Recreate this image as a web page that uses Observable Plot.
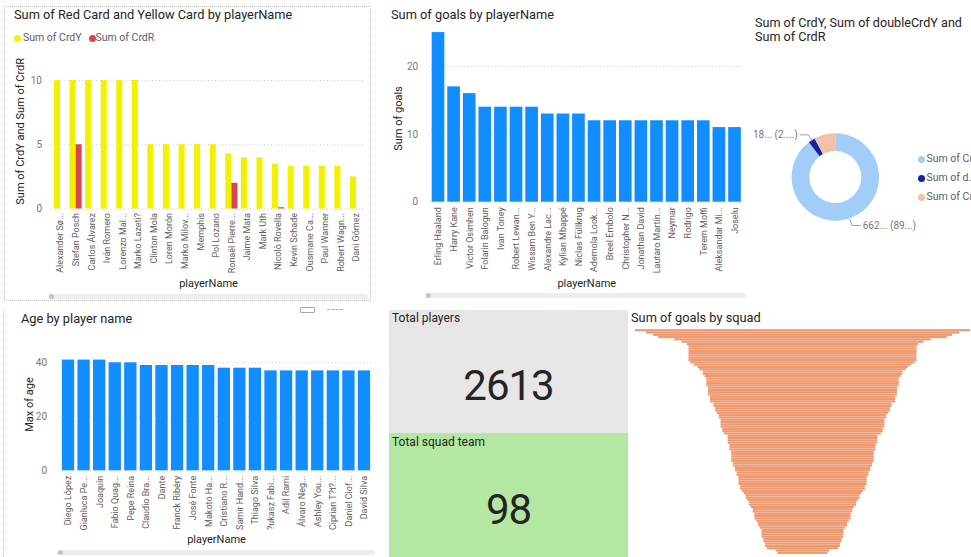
<!DOCTYPE html>
<html>
<head>
<meta charset="utf-8">
<script src="https://cdn.jsdelivr.net/npm/d3@7"></script>
<script src="https://cdn.jsdelivr.net/npm/@observablehq/plot@0.6"></script>
<style>
html,body{margin:0;padding:0;width:971px;height:557px;overflow:hidden;background:#fff;font-family:Roboto,sans-serif;}
.abs{position:absolute;}
.title{position:absolute;font-size:12.8px;line-height:14px;color:#252423;white-space:nowrap;}
.legtxt{position:absolute;font-size:10.5px;line-height:12px;color:#605E5C;white-space:nowrap;}
.dot{position:absolute;width:7px;height:7px;border-radius:50%;}
.scroll{position:absolute;height:5px;border-radius:3px;background:#EDEDED;}
.knob{position:absolute;width:5px;height:5px;border-radius:50%;background:#C4C4C4;}
.card{position:absolute;}
.cardnum{position:absolute;font-size:42px;line-height:42px;color:#252423;text-align:center;letter-spacing:-1px;}
svg{display:block;}
</style>
</head>
<body>
<script>
// ---------- DATA ----------
const cardPlayers = ["Alexander Sø...", "Stefan Posch", "Carlos Álvarez", "Iván Romero", "Lorenzo Mal...", "Marko Lazeti?", "Clinton Mola", "Loren Morón", "Marko Milov...", "Memphis", "Pol Lozano", "Ronaël Pierre...", "Jaime Mata", "Mark Uth", "Nicolò Rovella", "Kevin Schade", "Ousmane Ca...", "Paul Wanner", "Robert Wagn...", "Dani Gómez"];
const sumCrdY = [10, 10, 10, 10, 10, 10, 5, 5, 5, 5, 5, 4.29, 4, 4, 3.5, 3.33, 3.33, 3.33, 3.33, 2.5];
const sumCrdR = [0, 5, 0, 0, 0, 0, 0, 0, 0, 0, 0, 2, 0, 0, 0.1, 0, 0, 0, 0, 0];
const cardTicks = [0, 5, 10];

const goalPlayers = ["Erling Haaland", "Harry Kane", "Victor Osimhen", "Folarin Balogun", "Ivan Toney", "Robert Lewan...", "Wissam Ben Y...", "Alexandre Lac...", "Kylian Mbappé", "Niclas Füllkrug", "Ademola Look...", "Breel Embolo", "Christopher N...", "Jonathan David", "Lautaro Martín...", "Neymar", "Rodrigo", "Terem Moffi", "Aleksandar Mi...", "Joselu"];
const sumGoals = [25, 17, 16, 14, 14, 14, 14, 13, 13, 13, 12, 12, 12, 12, 12, 12, 12, 12, 11, 11];
const goalTicks = [0, 10, 20];

const agePlayers = ["Diego López", "Gianluca Pe...", "Joaquín", "Fabio Quag...", "Pepe Reina", "Claudio Bra...", "Dante", "Franck Ribéry", "José Fonte", "Makoto Ha...", "Cristiano R...", "Samir Hand...", "Thiago Silva", "?ukasz Fabi...", "Adil Rami", "Álvaro Neg...", "Ashley You...", "Ciprian T?t?...", "Daniel Ciof...", "David Silva"];
const maxAge = [41, 41, 41, 40, 40, 39, 39, 39, 39, 39, 38, 38, 38, 37, 37, 37, 37, 37, 37, 37];
const ageTicks = [0, 20, 40];

const donutSeries = ["Sum of CrdY", "Sum of doubleCrdY", "Sum of CrdR"];
const donutLegendText = ["Sum of CrdY", "Sum of d...", "Sum of CrdR"];
const donutValues = [662.4, 18.3, 58];
const donutDataLabels = ["662... (89...)", "18... (2....)", ""];
const donutColors = ["#A3CDF9", "#12239E", "#F3C0AA"];

const totalPlayers = 2613;
const totalSquads = 98;

const squadGoals = [94, 88, 84, 81, 72, 68,
  65, 64, 64, 64, 64, 64, 64, 64, 63,
  61, 59, 58,
  56, 56, 55,
  54, 54, 54, 54,
  53, 53, 53, 53, 52, 52, 52,
  50, 50,
  49, 49, 48,
  47, 47, 46, 46, 46, 46,
  45, 45, 44,
  42, 42, 42, 42,
  41, 41, 41, 40, 40, 40, 40, 40,
  39, 39, 38, 38,
  37, 37, 36, 36, 36, 36,
  35, 35, 34,
  33, 32, 32, 31, 30, 30,
  29, 28, 28, 27, 27, 27,
  26, 25, 25, 24,
  23, 23, 23, 23,
  22, 22, 21, 21,
  20,
  15, 14];

// ---------- HELPERS ----------
const YELLOW = "#F2F200", RED = "#D64550", BLUE = "#118DFF", FUNNEL = "#EF9970";
const baseStyle = {fontFamily: "Roboto, sans-serif", fontSize: "10px", background: "transparent", overflow: "visible"};

function el(cls, left, top, css = {}, text = "") {
  const d = document.createElement("div");
  d.className = cls;
  d.style.left = left + "px";
  d.style.top = top + "px";
  Object.assign(d.style, css);
  if (text !== "") d.textContent = text;
  document.body.appendChild(d);
  return d;
}
function place(node, left, top) {
  const d = el("abs", left, top);
  d.appendChild(node);
}

// ---------- PANEL DECORATION ----------
el("abs", 4, 6, {width: "367px", height: "295px", border: "1px dotted #C2C2C2", boxSizing: "border-box"});
el("abs", 3, 310, {width: "0px", height: "247px", borderLeft: "1px dotted #C2C2C2"});

// ---------- PANEL 1: cards ----------
el("title", 14, 8, {}, "Sum of Red Card and Yellow Card by playerName");
el("dot", 13.5, 34.5, {background: YELLOW});
el("legtxt", 23, 32, {}, "Sum of CrdY");
el("dot", 89, 34.5, {background: RED});
el("legtxt", 95.5, 32, {}, "Sum of CrdR");

place(Plot.plot({
  width: 380, height: 300,
  marginLeft: 50.5, marginRight: 14.5, marginTop: 67.15, marginBottom: 91.5,
  style: baseStyle,
  x: {type: "band", domain: cardPlayers, padding: 0.22, round: false},
  y: {domain: [0, 11]},
  marks: [
    Plot.ruleY(cardTicks, {stroke: "#C8C8C8", strokeDasharray: "1,2.5"}),
    Plot.barY(cardPlayers, {x: d => d, y: (d, i) => sumCrdY[i], fill: YELLOW, insetRight: 6.1}),
    Plot.barY(cardPlayers, {x: d => d, y: (d, i) => sumCrdR[i], fill: RED, insetLeft: 6.1}),
    Plot.axisY({ticks: cardTicks, tickSize: 0, tickPadding: 9, fontSize: 10, color: "#777", label: null}),
    Plot.axisX({tickRotate: -90, tickSize: 0, tickPadding: 4, fontSize: 9, color: "#605E5C", label: null}),
    Plot.text(["Sum of CrdY and Sum of CrdR"], {frameAnchor: "left", textAnchor: "middle", dx: -31, dy: -7, rotate: -90, fontSize: 11, fill: "#252423"}),
    Plot.text(["playerName"], {frameAnchor: "bottom", dy: 78, fontSize: 11, fill: "#252423"})
  ]
}), 0, 0);
el("scroll", 48, 293.5, {width: "320px"});
el("knob", 48.5, 293.5);

// ---------- PANEL 2: goals ----------
el("title", 391, 8, {}, "Sum of goals by playerName");
place(Plot.plot({
  width: 370, height: 300,
  marginLeft: 43.7, marginRight: 11.2, marginTop: 25.3, marginBottom: 98.3,
  style: baseStyle,
  x: {type: "band", domain: goalPlayers, padding: 0.19, round: false},
  y: {domain: [0, 26]},
  marks: [
    Plot.ruleY(goalTicks, {stroke: "#C8C8C8", strokeDasharray: "1,2.5"}),
    Plot.barY(goalPlayers, {x: d => d, y: (d, i) => sumGoals[i], fill: BLUE}),
    Plot.axisY({ticks: goalTicks, tickSize: 0, tickPadding: 11, fontSize: 10, color: "#777", label: null}),
    Plot.axisX({tickRotate: -90, tickSize: 0, tickPadding: 5, fontSize: 9, color: "#605E5C", label: null}),
    Plot.text(["Sum of goals"], {frameAnchor: "left", textAnchor: "middle", dx: -31, dy: 4.5, rotate: -90, fontSize: 11, fill: "#252423"}),
    Plot.text(["playerName"], {frameAnchor: "bottom", dy: 85, fontSize: 11, fill: "#252423"})
  ]
}), 385, 0);
el("scroll", 425, 293, {width: "321px"});
el("knob", 425.5, 293);

// ---------- PANEL 3: donut ----------
const donutTitle = el("title", 755, 16, {lineHeight: "13.5px", fontSize: "12.6px"});
donutTitle.innerHTML = "Sum of CrdY, Sum of doubleCrdY and<br>Sum of CrdR";

const pieArcs = d3.pie().sort(null)(donutValues);
const labelRows = pieArcs.map((a, i) => ({m: (a.startAngle + a.endAngle) / 2, label: donutDataLabels[i]})).filter(d => d.label);
const LR = 1.16, HL = 0.2;
const sideOf = d => (Math.sin(d.m) >= 0 ? 1 : -1);
place(Plot.plot({
  width: 216, height: 240,
  marginLeft: 36.6, marginRight: 92, marginTop: 73.3, marginBottom: 79.3,
  style: baseStyle,
  x: {domain: [-1, 1], axis: null},
  y: {domain: [-1, 1], axis: null},
  marks: [
    (index, scales) => {
      const g = d3.create("svg:g");
      const cx = scales.x(0), cy = scales.y(0);
      const R = scales.x(1) - cx;
      const arc = d3.arc().innerRadius(R * 0.595).outerRadius(R);
      g.attr("transform", `translate(${cx},${cy})`);
      g.selectAll("path").data(pieArcs).join("path")
        .attr("d", arc).attr("fill", (d, i) => donutColors[i]);
      return g.node();
    },
    Plot.link(labelRows, {x1: d => Math.sin(d.m), y1: d => Math.cos(d.m), x2: d => LR * Math.sin(d.m), y2: d => LR * Math.cos(d.m), stroke: "#A0A0A0", strokeWidth: 1}),
    Plot.link(labelRows, {x1: d => LR * Math.sin(d.m), y1: d => LR * Math.cos(d.m), x2: d => LR * Math.sin(d.m) + sideOf(d) * HL, y2: d => LR * Math.cos(d.m), stroke: "#A0A0A0", strokeWidth: 1}),
    Plot.text(labelRows.filter(d => sideOf(d) > 0), {x: d => LR * Math.sin(d.m) + HL, y: d => LR * Math.cos(d.m), text: "label", textAnchor: "start", dx: 2, fontSize: 10, fill: "#777"}),
    Plot.text(labelRows.filter(d => sideOf(d) < 0), {x: d => LR * Math.sin(d.m) - HL, y: d => LR * Math.cos(d.m), text: "label", textAnchor: "end", dx: -2, fontSize: 10, fill: "#777"})
  ]
}), 755, 60);
donutLegendText.forEach((t, i) => {
  el("dot", 918.2, 155.5 + i * 19, {background: donutColors[i]});
  el("legtxt", 926.5, 153 + i * 19, {}, t);
});

// ---------- PANEL 4: age ----------
el("title", 21, 312, {}, "Age by player name");
el("abs", 300, 307, {width: "13px", height: "4px", border: "1px solid #A8A8A8", borderRadius: "1px"});
el("abs", 327, 309, {width: "16px", height: "0px", borderTop: "1px dashed #A8A8A8"});
place(Plot.plot({
  width: 385, height: 252,
  marginLeft: 58.6, marginRight: 11.6, marginTop: 43.8, marginBottom: 86.7,
  style: baseStyle,
  x: {type: "band", domain: agePlayers, padding: 0.21, round: false},
  y: {domain: [0, 45]},
  marks: [
    Plot.ruleY(ageTicks, {stroke: "#C8C8C8", strokeDasharray: "1,2.5"}),
    Plot.barY(agePlayers, {x: d => d, y: (d, i) => maxAge[i], fill: BLUE}),
    Plot.axisY({ticks: ageTicks, tickSize: 0, tickPadding: 12, fontSize: 10, color: "#777", label: null}),
    Plot.axisX({tickRotate: -90, tickSize: 0, tickPadding: 5, fontSize: 9, color: "#605E5C", label: null}),
    Plot.text(["Max of age"], {frameAnchor: "left", textAnchor: "middle", dx: -30, dy: -5.5, rotate: -90, fontSize: 11, fill: "#252423"}),
    Plot.text(["playerName"], {frameAnchor: "bottom", dy: 72, fontSize: 11, fill: "#252423"})
  ]
}), 0, 305);
el("scroll", 57, 549.5, {width: "318px"});
el("knob", 57.5, 549.5);

// ---------- PANEL 5: cards ----------
el("card", 389, 310, {width: "239px", height: "123px", background: "#E6E6E6"});
el("card", 389, 433, {width: "239px", height: "124px", background: "#B4E8A2"});
el("title", 392, 311, {fontSize: "12px"}, "Total players");
el("title", 392, 435, {fontSize: "12px"}, "Total squad team");
el("cardnum", 389, 364.5, {width: "239px"}, String(totalPlayers));
el("cardnum", 389, 488.5, {width: "239px"}, String(totalSquads));

// ---------- PANEL 6: funnel ----------
el("title", 631, 311, {}, "Sum of goals by squad");
const squadMax = d3.max(squadGoals);
place(Plot.plot({
  width: 343, height: 232,
  marginLeft: 7, marginRight: 1, marginTop: 4, marginBottom: 3,
  style: baseStyle,
  x: {domain: [-squadMax / 2, squadMax / 2], axis: null},
  y: {type: "band", domain: squadGoals.map((d, i) => i), padding: 0.05, round: false, axis: null},
  marks: [
    Plot.barX(squadGoals, {x1: d => -d / 2, x2: d => d / 2, y: (d, i) => i, fill: FUNNEL})
  ]
}), 628, 325);
</script>
</body>
</html>
